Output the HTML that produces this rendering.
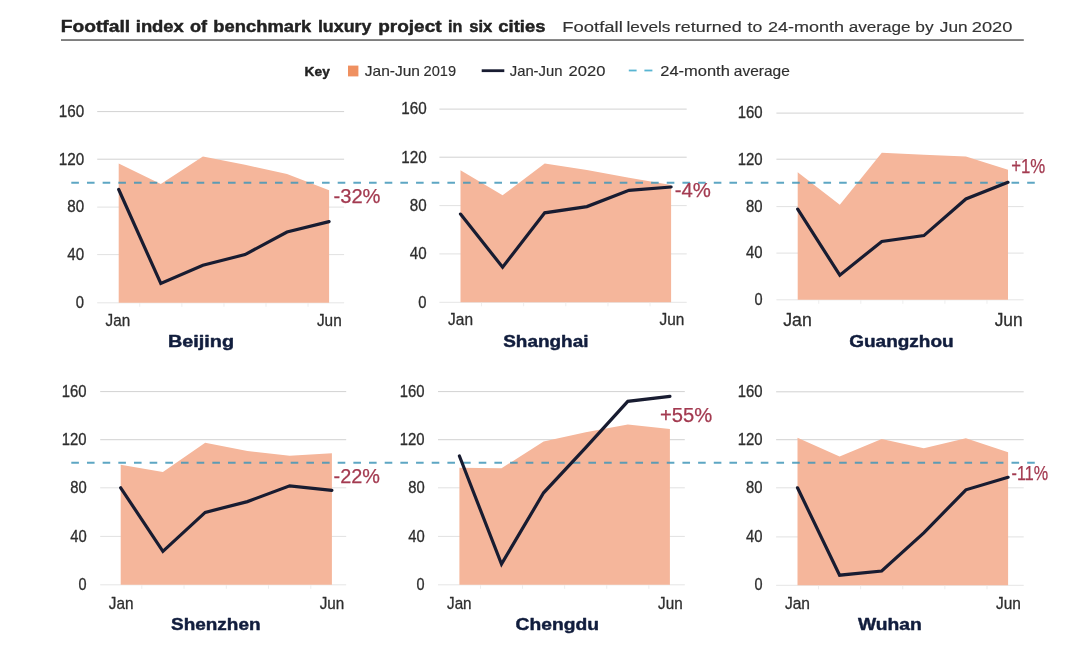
<!DOCTYPE html>
<html lang="en">
<head>
<meta charset="utf-8">
<title>Footfall index of benchmark luxury project in six cities</title>
<style>
html,body{margin:0;padding:0;background:#ffffff;}
body{width:1080px;height:654px;overflow:hidden;font-family:"Liberation Sans", sans-serif;}
svg{display:block;position:absolute;left:0;top:0;}
svg text{font-family:"Liberation Sans", sans-serif;}
</style>
</head>
<body>
<svg width="1080" height="654" viewBox="0 0 1080 654">
<rect x="0" y="0" width="1080" height="654" fill="#ffffff"/>
<g id="header">
<text y="32" font-size="17" fill="#222222" font-weight="bold" stroke="#222222" stroke-width="0.45" stroke-linejoin="round"><tspan x="60.72" textLength="69.39" lengthAdjust="spacingAndGlyphs">Footfall</tspan> <tspan x="135.77" textLength="48.08" lengthAdjust="spacingAndGlyphs">index</tspan> <tspan x="189.96" textLength="17.12" lengthAdjust="spacingAndGlyphs">of</tspan> <tspan x="213.28" textLength="98.08" lengthAdjust="spacingAndGlyphs">benchmark</tspan> <tspan x="317.91" textLength="53.45" lengthAdjust="spacingAndGlyphs">luxury</tspan> <tspan x="378.24" textLength="63.33" lengthAdjust="spacingAndGlyphs">project</tspan> <tspan x="447.92" textLength="14.34" lengthAdjust="spacingAndGlyphs">in</tspan> <tspan x="469.21" textLength="22.96" lengthAdjust="spacingAndGlyphs">six</tspan> <tspan x="498.35" textLength="47.07" lengthAdjust="spacingAndGlyphs">cities</tspan></text>
<text y="32.1" font-size="15.4" fill="#333333" stroke="#333333" stroke-width="0.15" stroke-linejoin="round"><tspan x="562.33" textLength="60.51" lengthAdjust="spacingAndGlyphs">Footfall</tspan> <tspan x="626.5" textLength="43.96" lengthAdjust="spacingAndGlyphs">levels</tspan> <tspan x="674.75" textLength="66.98" lengthAdjust="spacingAndGlyphs">returned</tspan> <tspan x="747.58" textLength="14.77" lengthAdjust="spacingAndGlyphs">to</tspan> <tspan x="767.93" textLength="76" lengthAdjust="spacingAndGlyphs">24-month</tspan> <tspan x="848.74" textLength="61.88" lengthAdjust="spacingAndGlyphs">average</tspan> <tspan x="915.29" textLength="18.34" lengthAdjust="spacingAndGlyphs">by</tspan> <tspan x="939.81" textLength="27.79" lengthAdjust="spacingAndGlyphs">Jun</tspan> <tspan x="971.72" textLength="40.66" lengthAdjust="spacingAndGlyphs">2020</tspan></text>
<rect x="61" y="39.1" width="962.8" height="1.9" fill="#7e7e7e"/>
</g>
<g id="legend">
<rect x="348" y="65.6" width="10.4" height="10.8" fill="#ef9060"/>
<rect x="481.7" y="69.3" width="22.6" height="2.8" fill="#181c31"/>
<rect x="628.8" y="69.6" width="7.8" height="1.8" fill="#58b5d2"/>
<rect x="644.4" y="69.6" width="8" height="1.8" fill="#58b5d2"/>
<text x="304.64" y="76" font-size="12.6" fill="#222222" textLength="25.17" lengthAdjust="spacingAndGlyphs" font-weight="bold" stroke="#222222" stroke-width="0.4" stroke-linejoin="round">Key</text>
<text y="76.2" font-size="14.2" fill="#2e2e2e" stroke="#2e2e2e" stroke-width="0.15" stroke-linejoin="round"><tspan x="364.83" textLength="55.16" lengthAdjust="spacingAndGlyphs">Jan-Jun</tspan> <tspan x="423.59" textLength="32.53" lengthAdjust="spacingAndGlyphs">2019</tspan></text>
<text y="76.2" font-size="14.2" fill="#2e2e2e" stroke="#2e2e2e" stroke-width="0.15" stroke-linejoin="round"><tspan x="509.74" textLength="52.71" lengthAdjust="spacingAndGlyphs">Jan-Jun</tspan> <tspan x="568.6" textLength="36.74" lengthAdjust="spacingAndGlyphs">2020</tspan></text>
<text y="76.2" font-size="14.2" fill="#2e2e2e" stroke="#2e2e2e" stroke-width="0.15" stroke-linejoin="round"><tspan x="660.3" textLength="69.55" lengthAdjust="spacingAndGlyphs">24-month</tspan> <tspan x="733.89" textLength="55.96" lengthAdjust="spacingAndGlyphs">average</tspan></text>
</g>
<g id="plot-beijing">
<rect x="97.2" y="111.1" width="246.9" height="1" fill="#d2d2d2"/>
<rect x="97.2" y="158.7" width="246.9" height="1" fill="#d2d2d2"/>
<rect x="97.2" y="206.6" width="246.9" height="1" fill="#e1e1e1"/>
<rect x="97.2" y="254.1" width="246.9" height="1" fill="#e1e1e1"/>
<rect x="97.2" y="302.3" width="246.9" height="1" fill="#e5e5e5"/>
<rect x="139.25" y="302.8" width="1" height="4" fill="#eeeeee"/>
<rect x="181.35" y="302.8" width="1" height="4" fill="#eeeeee"/>
<rect x="223.45" y="302.8" width="1" height="4" fill="#eeeeee"/>
<rect x="265.5" y="302.8" width="1" height="4" fill="#eeeeee"/>
<rect x="307.55" y="302.8" width="1" height="4" fill="#eeeeee"/>
<polygon points="118.7,302.8 118.7,163.5 160.8,184 202.9,156.4 245,164.7 287,174 329.1,190.3 329.1,302.8" fill="#f5b69b"/>
</g>
<g id="plot-shanghai">
<rect x="439.4" y="108.6" width="247.3" height="1" fill="#d2d2d2"/>
<rect x="439.4" y="156.7" width="247.3" height="1" fill="#d2d2d2"/>
<rect x="439.4" y="205.1" width="247.3" height="1" fill="#e1e1e1"/>
<rect x="439.4" y="253.4" width="247.3" height="1" fill="#e1e1e1"/>
<rect x="439.4" y="301.8" width="247.3" height="1" fill="#e5e5e5"/>
<rect x="481.05" y="302.3" width="1" height="4" fill="#eeeeee"/>
<rect x="523.15" y="302.3" width="1" height="4" fill="#eeeeee"/>
<rect x="565.3" y="302.3" width="1" height="4" fill="#eeeeee"/>
<rect x="607.45" y="302.3" width="1" height="4" fill="#eeeeee"/>
<rect x="649.55" y="302.3" width="1" height="4" fill="#eeeeee"/>
<polygon points="460.5,302.3 460.5,170.2 502.6,195.3 544.7,163.5 586.9,170 629,177.7 671.1,185 671.1,302.3" fill="#f5b69b"/>
</g>
<g id="plot-guangzhou">
<rect x="776.4" y="112.6" width="247.2" height="1" fill="#d2d2d2"/>
<rect x="776.4" y="158.7" width="247.2" height="1" fill="#d2d2d2"/>
<rect x="776.4" y="206.1" width="247.2" height="1" fill="#e1e1e1"/>
<rect x="776.4" y="252.6" width="247.2" height="1" fill="#e1e1e1"/>
<rect x="776.4" y="299.3" width="247.2" height="1" fill="#e5e5e5"/>
<rect x="818.25" y="299.8" width="1" height="4" fill="#eeeeee"/>
<rect x="860.3" y="299.8" width="1" height="4" fill="#eeeeee"/>
<rect x="902.35" y="299.8" width="1" height="4" fill="#eeeeee"/>
<rect x="944.4" y="299.8" width="1" height="4" fill="#eeeeee"/>
<rect x="986.45" y="299.8" width="1" height="4" fill="#eeeeee"/>
<polygon points="797.7,299.8 797.7,172.2 839.8,204.8 881.8,152.7 923.9,154.7 965.9,156.4 1008,169.7 1008,299.8" fill="#f5b69b"/>
</g>
<g id="plot-shenzhen">
<rect x="100.2" y="391.1" width="246" height="1" fill="#d2d2d2"/>
<rect x="100.2" y="439.2" width="246" height="1" fill="#d2d2d2"/>
<rect x="100.2" y="487.3" width="246" height="1" fill="#e1e1e1"/>
<rect x="100.2" y="535.9" width="246" height="1" fill="#e1e1e1"/>
<rect x="100.2" y="584.3" width="246" height="1" fill="#e5e5e5"/>
<rect x="141.3" y="584.8" width="1" height="4" fill="#eeeeee"/>
<rect x="183.55" y="584.8" width="1" height="4" fill="#eeeeee"/>
<rect x="225.8" y="584.8" width="1" height="4" fill="#eeeeee"/>
<rect x="268.05" y="584.8" width="1" height="4" fill="#eeeeee"/>
<rect x="310.3" y="584.8" width="1" height="4" fill="#eeeeee"/>
<polygon points="120.7,584.8 120.7,464.8 162.9,472 205.2,442.7 247.4,451 289.7,455.7 331.9,453.2 331.9,584.8" fill="#f5b69b"/>
</g>
<g id="plot-chengdu">
<rect x="438" y="391.1" width="246.8" height="1" fill="#d2d2d2"/>
<rect x="438" y="439.2" width="246.8" height="1" fill="#d2d2d2"/>
<rect x="438" y="487.3" width="246.8" height="1" fill="#e1e1e1"/>
<rect x="438" y="535.9" width="246.8" height="1" fill="#e1e1e1"/>
<rect x="438" y="584.3" width="246.8" height="1" fill="#e5e5e5"/>
<rect x="479.95" y="584.8" width="1" height="4" fill="#eeeeee"/>
<rect x="522.05" y="584.8" width="1" height="4" fill="#eeeeee"/>
<rect x="564.15" y="584.8" width="1" height="4" fill="#eeeeee"/>
<rect x="606.25" y="584.8" width="1" height="4" fill="#eeeeee"/>
<rect x="648.35" y="584.8" width="1" height="4" fill="#eeeeee"/>
<polygon points="459.4,584.8 459.4,467.8 501.5,468.3 543.6,441.4 585.7,432.2 627.8,424.6 669.9,428.9 669.9,584.8" fill="#f5b69b"/>
</g>
<g id="plot-wuhan">
<rect x="776.1" y="391.3" width="247.6" height="1" fill="#d2d2d2"/>
<rect x="776.1" y="439.2" width="247.6" height="1" fill="#d2d2d2"/>
<rect x="776.1" y="487.3" width="247.6" height="1" fill="#e1e1e1"/>
<rect x="776.1" y="536.4" width="247.6" height="1" fill="#e1e1e1"/>
<rect x="776.1" y="584.8" width="247.6" height="1" fill="#e5e5e5"/>
<rect x="818.05" y="585.3" width="1" height="4" fill="#eeeeee"/>
<rect x="860.15" y="585.3" width="1" height="4" fill="#eeeeee"/>
<rect x="902.25" y="585.3" width="1" height="4" fill="#eeeeee"/>
<rect x="944.35" y="585.3" width="1" height="4" fill="#eeeeee"/>
<rect x="986.5" y="585.3" width="1" height="4" fill="#eeeeee"/>
<polygon points="797.5,585.3 797.5,437.7 839.6,456.5 881.7,438.9 923.8,448.2 965.9,438.2 1008.1,452.2 1008.1,585.3" fill="#f5b69b"/>
</g>
<g id="average">
<line x1="71.3" y1="182.8" x2="1035" y2="182.8" stroke="#4196b8" stroke-opacity="0.85" stroke-width="1.9" stroke-dasharray="7.6 8.07"/>
<line x1="71.3" y1="462.8" x2="1035" y2="462.8" stroke="#4196b8" stroke-opacity="0.85" stroke-width="1.9" stroke-dasharray="7.6 8.07"/>
</g>
<g id="chart-beijing">
<polyline points="118.7,189.5 160.8,283.5 202.9,265.2 245,254.6 287,232 329.1,221.6" fill="none" stroke="#181c31" stroke-width="3.2" stroke-linejoin="miter" stroke-linecap="round"/>
<text x="58.7" y="116.93" font-size="15.97" fill="#2e2e2e" textLength="25.43" lengthAdjust="spacingAndGlyphs" stroke="#2e2e2e" stroke-width="0.3" stroke-linejoin="round">160</text>
<text x="58.7" y="164.53" font-size="15.97" fill="#2e2e2e" textLength="25.43" lengthAdjust="spacingAndGlyphs" stroke="#2e2e2e" stroke-width="0.3" stroke-linejoin="round">120</text>
<text x="67.28" y="212.43" font-size="15.97" fill="#2e2e2e" textLength="16.85" lengthAdjust="spacingAndGlyphs" stroke="#2e2e2e" stroke-width="0.3" stroke-linejoin="round">80</text>
<text x="67.27" y="259.93" font-size="15.97" fill="#2e2e2e" textLength="16.85" lengthAdjust="spacingAndGlyphs" stroke="#2e2e2e" stroke-width="0.3" stroke-linejoin="round">40</text>
<text x="75.87" y="308.13" font-size="15.97" fill="#2e2e2e" textLength="8.25" lengthAdjust="spacingAndGlyphs" stroke="#2e2e2e" stroke-width="0.3" stroke-linejoin="round">0</text>
<text x="105.61" y="326" font-size="16.47" fill="#2e2e2e" textLength="24.59" lengthAdjust="spacingAndGlyphs" stroke="#2e2e2e" stroke-width="0.3" stroke-linejoin="round">Jan</text>
<text x="316.91" y="326" font-size="16.62" fill="#2e2e2e" textLength="24.8" lengthAdjust="spacingAndGlyphs" stroke="#2e2e2e" stroke-width="0.3" stroke-linejoin="round">Jun</text>
<text x="167.99" y="347.2" font-size="16.8" fill="#111d3d" textLength="66.06" lengthAdjust="spacingAndGlyphs" font-weight="bold" stroke="#111d3d" stroke-width="0.45" stroke-linejoin="round">Beijing</text>
<text x="333.5" y="203.4" font-size="19.6" fill="#a33a50" textLength="46.98" lengthAdjust="spacingAndGlyphs" stroke="#a33a50" stroke-width="0.25" stroke-linejoin="round">-32%</text>
</g>
<g id="chart-shanghai">
<polyline points="460.5,214.1 502.6,267.2 544.7,212.8 586.9,206.6 629,190.3 671.1,187" fill="none" stroke="#181c31" stroke-width="3.2" stroke-linejoin="miter" stroke-linecap="round"/>
<text x="401.2" y="114.43" font-size="15.97" fill="#2e2e2e" textLength="25.43" lengthAdjust="spacingAndGlyphs" stroke="#2e2e2e" stroke-width="0.3" stroke-linejoin="round">160</text>
<text x="401.2" y="162.53" font-size="15.97" fill="#2e2e2e" textLength="25.43" lengthAdjust="spacingAndGlyphs" stroke="#2e2e2e" stroke-width="0.3" stroke-linejoin="round">120</text>
<text x="409.78" y="210.93" font-size="15.97" fill="#2e2e2e" textLength="16.85" lengthAdjust="spacingAndGlyphs" stroke="#2e2e2e" stroke-width="0.3" stroke-linejoin="round">80</text>
<text x="409.77" y="259.23" font-size="15.97" fill="#2e2e2e" textLength="16.85" lengthAdjust="spacingAndGlyphs" stroke="#2e2e2e" stroke-width="0.3" stroke-linejoin="round">40</text>
<text x="418.37" y="307.63" font-size="15.97" fill="#2e2e2e" textLength="8.25" lengthAdjust="spacingAndGlyphs" stroke="#2e2e2e" stroke-width="0.3" stroke-linejoin="round">0</text>
<text x="448.11" y="325.3" font-size="16.69" fill="#2e2e2e" textLength="24.91" lengthAdjust="spacingAndGlyphs" stroke="#2e2e2e" stroke-width="0.3" stroke-linejoin="round">Jan</text>
<text x="659.51" y="325.3" font-size="16.62" fill="#2e2e2e" textLength="24.8" lengthAdjust="spacingAndGlyphs" stroke="#2e2e2e" stroke-width="0.3" stroke-linejoin="round">Jun</text>
<text x="503.23" y="347.2" font-size="16.8" fill="#111d3d" textLength="85.27" lengthAdjust="spacingAndGlyphs" font-weight="bold" stroke="#111d3d" stroke-width="0.45" stroke-linejoin="round">Shanghai</text>
<text x="674.69" y="197.3" font-size="19.6" fill="#a33a50" textLength="36.19" lengthAdjust="spacingAndGlyphs" stroke="#a33a50" stroke-width="0.25" stroke-linejoin="round">-4%</text>
</g>
<g id="chart-guangzhou">
<polyline points="797.7,209.1 839.8,275.2 881.8,241.4 923.9,235.6 965.9,199 1008,182.3" fill="none" stroke="#181c31" stroke-width="3.2" stroke-linejoin="miter" stroke-linecap="round"/>
<text x="737.72" y="118.31" font-size="15.65" fill="#2e2e2e" textLength="24.9" lengthAdjust="spacingAndGlyphs" stroke="#2e2e2e" stroke-width="0.3" stroke-linejoin="round">160</text>
<text x="737.72" y="165.01" font-size="15.65" fill="#2e2e2e" textLength="24.9" lengthAdjust="spacingAndGlyphs" stroke="#2e2e2e" stroke-width="0.3" stroke-linejoin="round">120</text>
<text x="746.12" y="211.81" font-size="15.65" fill="#2e2e2e" textLength="16.5" lengthAdjust="spacingAndGlyphs" stroke="#2e2e2e" stroke-width="0.3" stroke-linejoin="round">80</text>
<text x="746.12" y="258.31" font-size="15.65" fill="#2e2e2e" textLength="16.5" lengthAdjust="spacingAndGlyphs" stroke="#2e2e2e" stroke-width="0.3" stroke-linejoin="round">40</text>
<text x="754.54" y="305.01" font-size="15.65" fill="#2e2e2e" textLength="8.07" lengthAdjust="spacingAndGlyphs" stroke="#2e2e2e" stroke-width="0.3" stroke-linejoin="round">0</text>
<text x="783.27" y="326" font-size="19.14" fill="#2e2e2e" textLength="28.57" lengthAdjust="spacingAndGlyphs" stroke="#2e2e2e" stroke-width="0.3" stroke-linejoin="round">Jan</text>
<text x="994.68" y="326" font-size="18.72" fill="#2e2e2e" textLength="27.94" lengthAdjust="spacingAndGlyphs" stroke="#2e2e2e" stroke-width="0.3" stroke-linejoin="round">Jun</text>
<text x="849.23" y="347.2" font-size="16.8" fill="#111d3d" textLength="104.36" lengthAdjust="spacingAndGlyphs" font-weight="bold" stroke="#111d3d" stroke-width="0.45" stroke-linejoin="round">Guangzhou</text>
<text x="1011.14" y="172.7" font-size="19.6" fill="#a33a50" textLength="34.14" lengthAdjust="spacingAndGlyphs" stroke="#a33a50" stroke-width="0.25" stroke-linejoin="round">+1%</text>
</g>
<g id="chart-shenzhen">
<polyline points="120.7,487.8 162.9,551.4 205.2,512.4 247.4,501.6 289.7,485.8 331.9,490.3" fill="none" stroke="#181c31" stroke-width="3.2" stroke-linejoin="miter" stroke-linecap="round"/>
<text x="61.82" y="396.79" font-size="15.58" fill="#2e2e2e" textLength="24.8" lengthAdjust="spacingAndGlyphs" stroke="#2e2e2e" stroke-width="0.3" stroke-linejoin="round">160</text>
<text x="61.82" y="444.89" font-size="15.58" fill="#2e2e2e" textLength="24.8" lengthAdjust="spacingAndGlyphs" stroke="#2e2e2e" stroke-width="0.3" stroke-linejoin="round">120</text>
<text x="70.19" y="492.99" font-size="15.58" fill="#2e2e2e" textLength="16.43" lengthAdjust="spacingAndGlyphs" stroke="#2e2e2e" stroke-width="0.3" stroke-linejoin="round">80</text>
<text x="70.19" y="541.59" font-size="15.58" fill="#2e2e2e" textLength="16.43" lengthAdjust="spacingAndGlyphs" stroke="#2e2e2e" stroke-width="0.3" stroke-linejoin="round">40</text>
<text x="78.57" y="589.99" font-size="15.58" fill="#2e2e2e" textLength="8.04" lengthAdjust="spacingAndGlyphs" stroke="#2e2e2e" stroke-width="0.3" stroke-linejoin="round">0</text>
<text x="108.81" y="608.6" font-size="16.54" fill="#2e2e2e" textLength="24.7" lengthAdjust="spacingAndGlyphs" stroke="#2e2e2e" stroke-width="0.3" stroke-linejoin="round">Jan</text>
<text x="319.71" y="608.6" font-size="16.47" fill="#2e2e2e" textLength="24.59" lengthAdjust="spacingAndGlyphs" stroke="#2e2e2e" stroke-width="0.3" stroke-linejoin="round">Jun</text>
<text x="171.03" y="629.6" font-size="16.8" fill="#111d3d" textLength="89.56" lengthAdjust="spacingAndGlyphs" font-weight="bold" stroke="#111d3d" stroke-width="0.45" stroke-linejoin="round">Shenzhen</text>
<text x="333.6" y="482.8" font-size="19.6" fill="#a33a50" textLength="46.36" lengthAdjust="spacingAndGlyphs" stroke="#a33a50" stroke-width="0.25" stroke-linejoin="round">-22%</text>
</g>
<g id="chart-chengdu">
<polyline points="459.4,456 501.5,564 543.6,492.8 585.7,447.7 627.8,401.3 669.9,396.3" fill="none" stroke="#181c31" stroke-width="3.2" stroke-linejoin="miter" stroke-linecap="round"/>
<text x="399.82" y="396.79" font-size="15.58" fill="#2e2e2e" textLength="24.8" lengthAdjust="spacingAndGlyphs" stroke="#2e2e2e" stroke-width="0.3" stroke-linejoin="round">160</text>
<text x="399.82" y="444.89" font-size="15.58" fill="#2e2e2e" textLength="24.8" lengthAdjust="spacingAndGlyphs" stroke="#2e2e2e" stroke-width="0.3" stroke-linejoin="round">120</text>
<text x="408.19" y="492.99" font-size="15.58" fill="#2e2e2e" textLength="16.43" lengthAdjust="spacingAndGlyphs" stroke="#2e2e2e" stroke-width="0.3" stroke-linejoin="round">80</text>
<text x="408.19" y="541.59" font-size="15.58" fill="#2e2e2e" textLength="16.43" lengthAdjust="spacingAndGlyphs" stroke="#2e2e2e" stroke-width="0.3" stroke-linejoin="round">40</text>
<text x="416.57" y="589.99" font-size="15.58" fill="#2e2e2e" textLength="8.04" lengthAdjust="spacingAndGlyphs" stroke="#2e2e2e" stroke-width="0.3" stroke-linejoin="round">0</text>
<text x="447.01" y="608.6" font-size="16.47" fill="#2e2e2e" textLength="24.59" lengthAdjust="spacingAndGlyphs" stroke="#2e2e2e" stroke-width="0.3" stroke-linejoin="round">Jan</text>
<text x="658.11" y="608.6" font-size="16.47" fill="#2e2e2e" textLength="24.59" lengthAdjust="spacingAndGlyphs" stroke="#2e2e2e" stroke-width="0.3" stroke-linejoin="round">Jun</text>
<text x="515.62" y="630.4" font-size="16.8" fill="#111d3d" textLength="83.38" lengthAdjust="spacingAndGlyphs" font-weight="bold" stroke="#111d3d" stroke-width="0.45" stroke-linejoin="round">Chengdu</text>
<text x="659.98" y="421.9" font-size="19.6" fill="#a33a50" textLength="52.2" lengthAdjust="spacingAndGlyphs" stroke="#a33a50" stroke-width="0.25" stroke-linejoin="round">+55%</text>
</g>
<g id="chart-wuhan">
<polyline points="797.5,487.8 839.6,575.2 881.7,571 923.8,532.9 965.9,489.8 1008.1,477.3" fill="none" stroke="#181c31" stroke-width="3.2" stroke-linejoin="miter" stroke-linecap="round"/>
<text x="737.72" y="396.99" font-size="15.58" fill="#2e2e2e" textLength="24.8" lengthAdjust="spacingAndGlyphs" stroke="#2e2e2e" stroke-width="0.3" stroke-linejoin="round">160</text>
<text x="737.72" y="444.89" font-size="15.58" fill="#2e2e2e" textLength="24.8" lengthAdjust="spacingAndGlyphs" stroke="#2e2e2e" stroke-width="0.3" stroke-linejoin="round">120</text>
<text x="746.09" y="492.99" font-size="15.58" fill="#2e2e2e" textLength="16.43" lengthAdjust="spacingAndGlyphs" stroke="#2e2e2e" stroke-width="0.3" stroke-linejoin="round">80</text>
<text x="746.09" y="542.09" font-size="15.58" fill="#2e2e2e" textLength="16.43" lengthAdjust="spacingAndGlyphs" stroke="#2e2e2e" stroke-width="0.3" stroke-linejoin="round">40</text>
<text x="754.47" y="590.49" font-size="15.58" fill="#2e2e2e" textLength="8.04" lengthAdjust="spacingAndGlyphs" stroke="#2e2e2e" stroke-width="0.3" stroke-linejoin="round">0</text>
<text x="784.91" y="608.6" font-size="16.83" fill="#2e2e2e" textLength="25.12" lengthAdjust="spacingAndGlyphs" stroke="#2e2e2e" stroke-width="0.3" stroke-linejoin="round">Jan</text>
<text x="996.01" y="608.6" font-size="16.69" fill="#2e2e2e" textLength="24.91" lengthAdjust="spacingAndGlyphs" stroke="#2e2e2e" stroke-width="0.3" stroke-linejoin="round">Jun</text>
<text x="857.93" y="629.6" font-size="16.8" fill="#111d3d" textLength="63.88" lengthAdjust="spacingAndGlyphs" font-weight="bold" stroke="#111d3d" stroke-width="0.45" stroke-linejoin="round">Wuhan</text>
<text x="1011.52" y="479.8" font-size="19.6" fill="#a33a50" textLength="36.54" lengthAdjust="spacingAndGlyphs" stroke="#a33a50" stroke-width="0.25" stroke-linejoin="round">-11%</text>
</g>
</svg>
</body>
</html>
